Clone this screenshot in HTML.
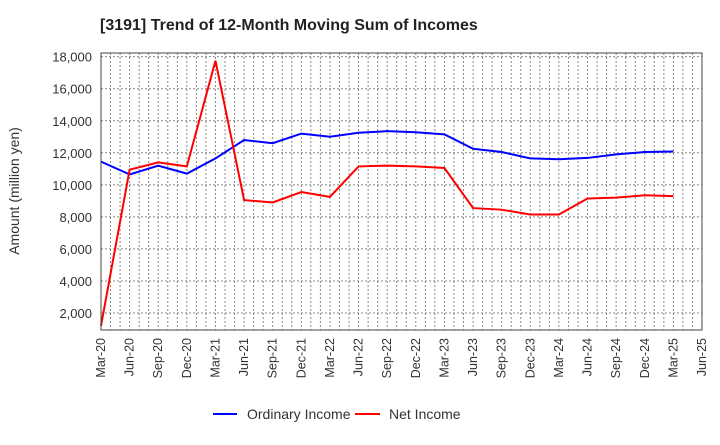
<!DOCTYPE html>
<html><head><meta charset="utf-8"><style>
body{margin:0;background:#fff;font-family:"Liberation Sans",sans-serif}
</style></head><body>
<svg id="c" width="720" height="440" xmlns="http://www.w3.org/2000/svg">
<text x="100" y="30" font-size="16" font-weight="bold" fill="#222">[3191]  Trend of 12-Month Moving Sum of Incomes</text>
<text transform="translate(19,191) rotate(-90)" text-anchor="middle" font-size="14" fill="#333">Amount (million yen)</text>
<g id="grid"></g><g id="ylab"></g><g id="xlab"></g><g id="lines"></g>
<rect x="101" y="53" width="601" height="277" fill="none" stroke="#444" stroke-width="1"/>
<g>
<line x1="213" y1="414" x2="237" y2="414" stroke="#0000ff" stroke-width="2"/>
<text x="247" y="419" font-size="14" fill="#333">Ordinary Income</text>
<line x1="355" y1="414" x2="380" y2="414" stroke="#ff0000" stroke-width="2"/>
<text x="389" y="419" font-size="14" fill="#333">Net Income</text>
</g>
</svg>
<script>
const categories=["Mar-20","Jun-20","Sep-20","Dec-20","Mar-21","Jun-21","Sep-21","Dec-21","Mar-22","Jun-22","Sep-22","Dec-22","Mar-23","Jun-23","Sep-23","Dec-23","Mar-24","Jun-24","Sep-24","Dec-24","Mar-25","Jun-25"];
const ordinaryIncome=[11450,10650,11200,10700,11650,12800,12600,13200,13000,13250,13350,13280,13150,12250,12050,11650,11600,11680,11900,12050,12080];
const netIncome=[1200,10950,11400,11150,17750,9050,8900,9550,9250,11150,11200,11150,11050,8550,8450,8150,8150,9150,9200,9350,9300];
const yTicks=[2000,4000,6000,8000,10000,12000,14000,16000,18000];
const NS="http://www.w3.org/2000/svg";
const L=101,R=702,T=53,B=330,yMin=940,yMax=18230;
const xs=i=>L+(R-L)*i/(categories.length-1);
const ys=v=>B-(v-yMin)/(yMax-yMin)*(B-T);
function mk(tag,attrs,parent){const e=document.createElementNS(NS,tag);for(const k in attrs)e.setAttribute(k,attrs[k]);document.getElementById(parent).appendChild(e);return e;}
const months=(categories.length-1)*3;
for(let m=1;m<months;m++){const x=L+(R-L)*m/months;
 const g=mk('line',{x1:x,x2:x,y1:T,y2:B,stroke:'#888','stroke-dasharray':'2,2','stroke-width':1},'grid');
 
 }
yTicks.forEach(v=>{const y=ys(v);
 const g=mk('line',{x1:L,x2:R,y1:y,y2:y,stroke:'#888','stroke-dasharray':'2,2','stroke-width':1},'grid');
 
 
 const t=mk('text',{x:92,y:y+5,'text-anchor':'end','font-size':13,fill:'#333'},'ylab');t.textContent=v.toLocaleString('en-US');
 
 });
categories.forEach((c,i)=>{const x=xs(i);
 const t=mk('text',{transform:`translate(${x+4},338) rotate(-90)`,'text-anchor':'end','font-size':12.5,fill:'#333'},'xlab');t.textContent=c;
 
 });
function line(data,color,name){const p=mk('polyline',{points:data.map((v,i)=>xs(i)+','+ys(v)).join(' '),fill:'none',stroke:color,'stroke-width':2},'lines');
 
 }
line(ordinaryIncome,'#0000ff','ordinary-income-line');
line(netIncome,'#ff0000','net-income-line');
</script>
</body></html>
